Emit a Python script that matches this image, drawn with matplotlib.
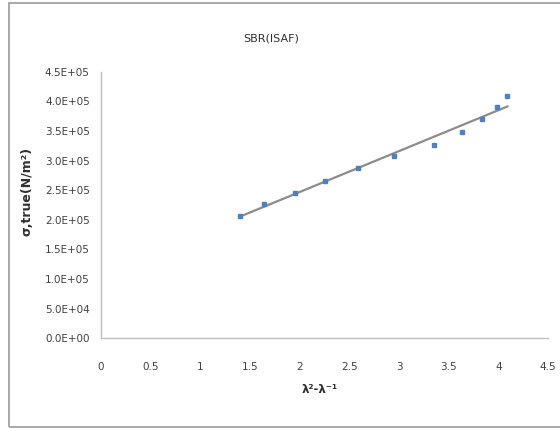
import numpy as np
import matplotlib.pyplot as plt
from matplotlib.patches import Rectangle
from matplotlib.ticker import FuncFormatter

# lambda^2 - lambda^-1 vs true stress, SBR filled with ISAF black
strain = [1.40, 1.64, 1.95, 2.25, 2.59, 2.95, 3.35, 3.63, 3.83, 3.98, 4.09]
stress = [2.06e5, 2.27e5, 2.45e5, 2.66e5, 2.88e5, 3.08e5, 3.27e5, 3.49e5, 3.70e5, 3.90e5, 4.09e5]

xticks = [0, 0.5, 1, 1.5, 2, 2.5, 3, 3.5, 4, 4.5]
yticks = np.arange(0, 4.5e5 + 1, 0.5e5)

plt.rcParams['font.family'] = ['DejaVu Sans']

fig = plt.figure(figsize=(5.6, 4.28), dpi=100)
fig.patches.append(Rectangle((0.016, 0.002), 0.99, 0.99, transform=fig.transFigure,
                             fill=False, edgecolor='#9a9a9a', linewidth=1.2))

ax = fig.add_axes([0.18, 0.21, 0.799, 0.622])

# linear trendline through the points
k, b = np.polyfit(strain, stress, 1)
xs = np.array([min(strain), max(strain)])
ax.plot(xs, k * xs + b, color='#8c8c8c', linewidth=1.6, zorder=2)
ax.plot(strain, stress, linestyle='none', marker='s', markersize=3.0,
        color='#4f81bd', zorder=3)

ax.set_xlim(0, 4.5)
ax.set_ylim(0, 4.5e5)
ax.set_xticks(xticks)
ax.set_yticks(yticks)
ax.xaxis.set_major_formatter(FuncFormatter(lambda v, p: '%g' % v))
ax.yaxis.set_major_formatter(FuncFormatter(lambda v, p: '%.1E' % v))

for s in ['top', 'right']:
    ax.spines[s].set_visible(False)
for s in ['left', 'bottom']:
    ax.spines[s].set_color('#bfbfbf')
    ax.spines[s].set_linewidth(1.0)
ax.tick_params(length=0, labelsize=7.5, colors='#404040', pad=8)
ax.tick_params(axis='x', pad=17)

ax.set_title('SBR(ISAF)', fontsize=8, color='#303030', pad=22, x=0.38)
ax.set_xlabel('λ²-λ⁻¹', fontsize=8.5, fontweight='bold', color='#303030', labelpad=8, x=0.49)
ax.set_ylabel('σ,true(N/m²)', fontsize=9, fontweight='bold', color='#303030',
              labelpad=8, y=0.55)

fig.savefig('out.png', dpi=100)
